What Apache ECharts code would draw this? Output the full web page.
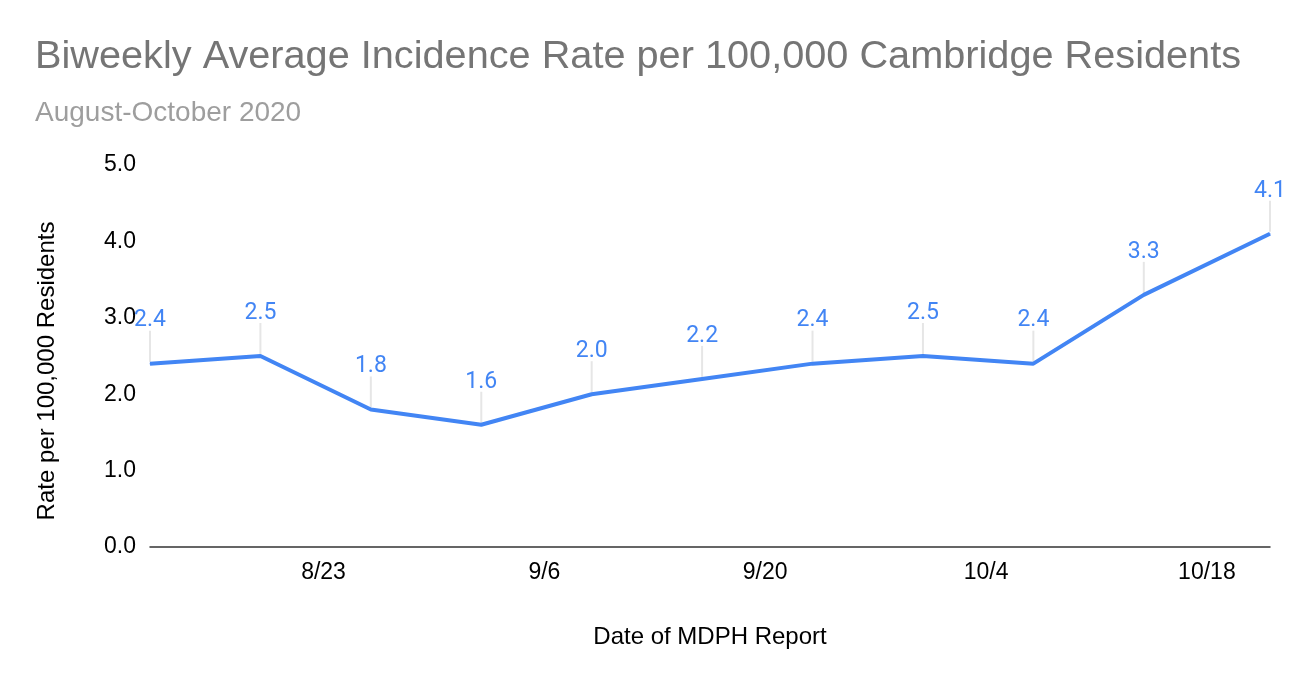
<!DOCTYPE html>
<html><head><meta charset="utf-8">
<script src="https://cdn.jsdelivr.net/npm/echarts@6/dist/echarts.min.js"></script>
<style>html,body{margin:0;padding:0;background:#fff}#c{width:1306px;height:686px}</style>
</head><body><div id="c"></div>
<script>
const reportDates = ['8/12','8/19','8/26','9/2','9/9','9/16','9/23','9/30','10/7','10/14','10/22'];
const rates = [2.4, 2.5, 1.8, 1.6, 2.0, 2.2, 2.4, 2.5, 2.4, 3.3, 4.1];
const tickLabels = ['8/23','9/6','9/20','10/4','10/18'];
const YEAR = 2020;

function dayNum(s){ const p = s.split('/'); return Math.round(Date.UTC(YEAR, +p[0]-1, +p[1]) / 86400000); }
const d0 = dayNum(reportDates[0]);
const xs = reportDates.map(d => dayNum(d) - d0);
const tickXs = tickLabels.map(d => dayNum(d) - d0);
const seriesData = xs.map((x, i) => [x, rates[i]]);

const chart = echarts.init(document.getElementById('c'));
chart.setOption({
  backgroundColor: '#fff',
  animation: false,
  title: [
    { text: 'Biweekly Average Incidence Rate per 100,000 Cambridge Residents', left: 35, top: 37, padding: 0,
      textStyle: { fontFamily: 'Liberation Sans', fontSize: 39.7, fontWeight: 'normal', color: '#757575' } },
    { text: 'August-October 2020', left: 35, top: 99, padding: 0,
      textStyle: { fontFamily: 'Liberation Sans', fontSize: 28, fontWeight: 'normal', color: '#9e9e9e' } }
  ],
  grid: { left: 150, right: 36, top: 165, bottom: 139, containLabel: false },
  xAxis: {
    type: 'value', min: xs[0], max: xs[xs.length-1],
    name: 'Date of MDPH Report', nameLocation: 'middle', nameGap: 78,
    nameTextStyle: { fontFamily: 'Liberation Sans', fontSize: 24, color: '#000' },
    axisLine: { show: true, onZero: true, lineStyle: { color: '#333', width: 1.5 } },
    axisTick: { show: false },
    splitLine: { show: false },
    axisLabel: {
      customValues: tickXs, margin: 14,
      fontFamily: 'Liberation Sans', fontSize: 23, color: '#000',
      formatter: v => tickLabels[tickXs.indexOf(v)] || ''
    }
  },
  yAxis: {
    type: 'value', min: 0, max: 5, interval: 1,
    name: 'Rate per 100,000 Residents', nameLocation: 'middle', nameGap: 91, nameRotate: 90,
    nameTextStyle: { fontFamily: 'Liberation Sans', fontSize: 24, color: '#000', padding: [0, 0, 0, -30] },
    axisLine: { show: false }, axisTick: { show: false },
    splitLine: { show: false },
    axisLabel: { margin: 14, fontFamily: 'Liberation Sans', fontSize: 23, color: '#000',
      formatter: v => v.toFixed(1) }
  },
  series: [
    {
      type: 'custom',
      silent: true,
      data: seriesData,
      z: 1,
      renderItem: function(params, api){
        const p = api.coord([api.value(0), api.value(1)]);
        return { type: 'line', shape: { x1: p[0], y1: p[1] - 2, x2: p[0], y2: p[1] - 33 },
          style: { stroke: '#e6e6e6', lineWidth: 2 } };
      }
    },
    {
      type: 'line', data: seriesData, z: 3,
      showSymbol: true, symbol: 'circle', symbolSize: 1,
      lineStyle: { color: '#4285f4', width: 4 },
      itemStyle: { color: '#4285f4' },
      label: { show: true, position: 'top', distance: 31,
        fontFamily: 'Roboto', fontSize: 23, color: '#4285f4',
        formatter: p => p.value[1].toFixed(1) }
    }
  ]
});
</script></body></html>
